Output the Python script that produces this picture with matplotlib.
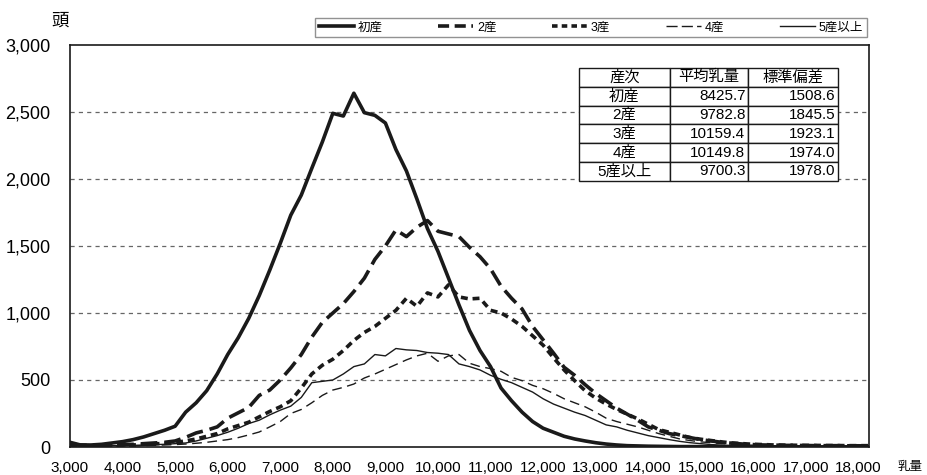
import matplotlib
matplotlib.use("Agg")
import matplotlib.pyplot as plt
import numpy as np
from matplotlib.lines import Line2D

plt.rcParams['font.family'] = ['Liberation Sans', 'Noto Sans CJK JP']
plt.rcParams['lines.scale_dashes'] = False

# 乳量 bins (kg), 200 kg steps
bins = np.arange(3000, 18201, 200)

first = [35, 15, 15, 20, 30, 40, 55, 75, 100, 125,
         155, 260, 330, 420, 545, 690, 815, 960, 1130, 1320,
         1520, 1730, 1880, 2080, 2276, 2490, 2470, 2640, 2495, 2475,
         2418, 2220, 2060, 1850, 1630, 1460, 1261, 1060, 870, 720,
         600, 440, 345, 260, 190, 140, 110, 80, 60, 45,
         32, 22, 15, 10, 8, 6, 5, 4, 3, 3,
         3, 2, 2, 2, 2, 2, 2, 1, 1, 1,
         1, 1, 1, 1, 1, 1, 1]
second = [20, 15, 12, 12, 15, 18, 20, 25, 30, 35,
          45, 72, 105, 125, 150, 215, 255, 295, 385, 425,
          500, 590, 690, 820, 930, 1000, 1070, 1160, 1260, 1400,
          1500, 1620, 1570, 1640, 1690, 1610, 1590, 1570, 1490, 1420,
          1330, 1200, 1110, 1030, 900, 800, 700, 595, 535, 465,
          400, 345, 290, 245, 200, 150, 125, 100, 85, 70,
          55, 45, 35, 28, 22, 18, 15, 14, 12, 12,
          11, 10, 10, 10, 9, 9, 8]
third = [15, 10, 10, 10, 12, 15, 15, 20, 22, 28,
         35, 45, 60, 80, 100, 135, 160, 185, 225, 265,
         300, 345, 440, 545, 610, 655, 720, 795, 855, 900,
         960, 1020, 1110, 1050, 1150, 1120, 1210, 1120, 1105, 1110,
         1020, 1000, 955, 900, 830, 760, 665, 575, 495, 420,
         365, 320, 280, 245, 210, 170, 130, 110, 90, 70,
         58, 48, 38, 30, 25, 20, 18, 15, 14, 13,
         12, 12, 11, 11, 10, 10, 10]
fourth = [10, 8, 6, 6, 7, 8, 8, 10, 12, 15,
          18, 22, 28, 35, 45, 55, 70, 90, 112, 150,
          190, 250, 280, 330, 385, 425, 445, 470, 515, 545,
          580, 615, 650, 680, 700, 640, 680, 690, 625, 600,
          585, 565, 520, 495, 460, 435, 400, 360, 330, 300,
          260, 215, 190, 170, 150, 125, 100, 80, 60, 48,
          38, 32, 25, 20, 16, 13, 11, 10, 9, 8,
          8, 7, 7, 6, 6, 6, 5]
fifth = [15, 10, 8, 8, 10, 10, 12, 15, 18, 20,
         25, 30, 45, 65, 85, 110, 140, 175, 200, 240,
         275, 305, 370, 480, 490, 500, 545, 600, 620, 690,
         680, 735, 725, 720, 705, 700, 690, 620, 600, 575,
         535, 505, 480, 445, 410, 360, 320, 290, 260, 235,
         200, 165, 150, 125, 105, 85, 70, 55, 42, 32,
         25, 18, 14, 11, 10, 9, 8, 8, 7, 7,
         6, 6, 6, 5, 5, 5, 5]

labels = ['初産', '2産', '3産', '4産', '5産以上']
tbl_head = ['産次', '平均乳量', '標準偏差']
tbl_mean = ['8425.7', '9782.8', '10159.4', '10149.8', '9700.3']
tbl_sd = ['1508.6', '1845.5', '1923.1', '1974.0', '1978.0']

fig = plt.figure(figsize=(9.27, 4.75), dpi=100)
ax = fig.add_axes([70/927, 28/475, 799/927, 402/475])

ax.plot(bins, first, color='#1a1a1a', lw=2.6, solid_joinstyle='round')
ax.plot(bins, second, color='#1a1a1a', lw=2.6, dashes=(12, 5))
ax.plot(bins, third, color='#1a1a1a', lw=2.6, dashes=(5, 3.5))
ax.plot(bins, fourth, color='#1a1a1a', lw=1.0, dashes=(7, 4))
ax.plot(bins, fifth, color='#1a1a1a', lw=1.0)

ax.set_xlim(3000, 18200)
ax.set_ylim(0, 3000)
ax.set_xticks(range(3000, 18001, 1000))
ax.set_xticklabels([f'{v:,}' for v in range(3000, 18001, 1000)], fontsize=11)
ax.set_yticks(range(0, 3001, 500))
ax.set_yticklabels([f'{v:,}' for v in range(0, 3001, 500)], fontsize=13)
ax.tick_params(axis='both', length=0)
ax.tick_params(axis='y', pad=14)
ax.tick_params(axis='x', pad=10)
for y in range(500, 3000, 500):
    ax.axhline(y, color='#666666', lw=0.9, dashes=(3, 3), zorder=0)
for s in ax.spines.values():
    s.set_linewidth(1.2)
    s.set_color('#1a1a1a')

fig.text(60/927, 1-21/475, '頭', fontsize=12.5, ha='center', va='center')
fig.text(910/927, 1-467/475, '乳量', fontsize=9, ha='center', va='center')

# legend
handles = [Line2D([], [], color='#1a1a1a', lw=2.6),
           Line2D([], [], color='#1a1a1a', lw=2.6, dashes=(8, 4)),
           Line2D([], [], color='#1a1a1a', lw=2.6, dashes=(4, 3)),
           Line2D([], [], color='#1a1a1a', lw=1.0, dashes=(8, 3)),
           Line2D([], [], color='#1a1a1a', lw=1.0)]
leg = fig.legend(handles, labels, loc='lower left', ncol=5, mode='expand',
                 bbox_to_anchor=(315/927, 1-37/475, 552/927, 24/475),
                 borderaxespad=0, fontsize=9, handlelength=2.8,
                 handletextpad=0.3, borderpad=0.3, fancybox=False,
                 frameon=True)
leg.get_frame().set_edgecolor('#777777')
leg.get_frame().set_linewidth(1.0)

# summary table
cells = [[l, m, s] for l, m, s in zip(labels, tbl_mean, tbl_sd)]
tb = ax.table(cellText=cells, colLabels=tbl_head,
              colWidths=[0.351, 0.301, 0.348],
              bbox=[0.637, 0.662, 0.324, 0.281], zorder=5)
tb.auto_set_font_size(False)
tb.set_fontsize(11)
for (r, c), cell in tb.get_celld().items():
    cell.set_edgecolor('#1a1a1a')
    cell.set_linewidth(1.0)
    cell.set_facecolor('white')
    cell.PAD = 0.03
    if r > 0 and c > 0:
        cell.get_text().set_ha('right')
        cell._loc = 'right'
    else:
        cell.get_text().set_ha('center')
        cell._loc = 'center'

fig.savefig('out.png', dpi=100)
